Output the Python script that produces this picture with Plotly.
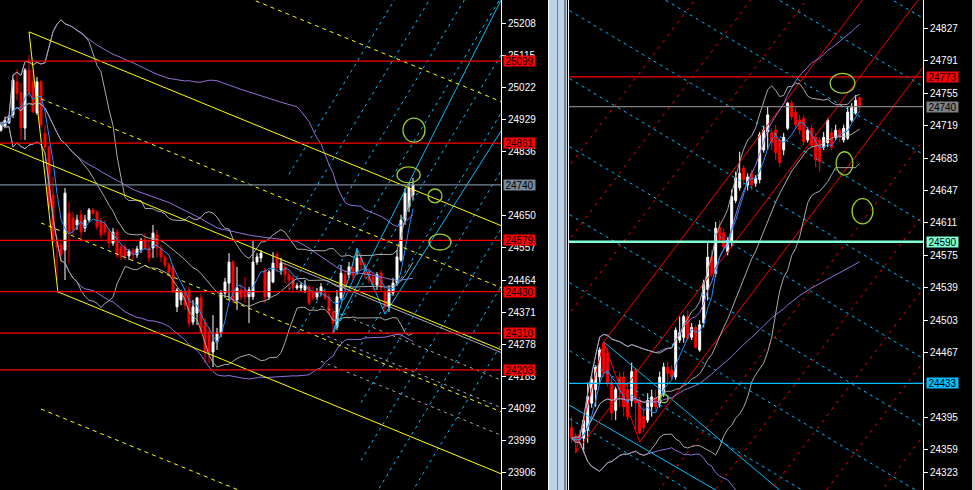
import plotly.graph_objects as go
import pandas as pd

# ---------------- data: left chart (bar index 0..103) ----------------
L_open = [24899,24911,24920,24943,25039,25007,24905,25073,25039,24949,25039,24890,24850,24711,24574,24566,24551,24658,24644,24624,
          24653,24615,24638,24667,24661,24632,24626,24603,24571,24603,24560,24560,24534,24551,24537,24551,24580,24557,24557,24595,
          24557,24531,24508,24499,24386,24406,24429,24435,24342,24368,24412,24342,24313,24255,24284,24310,24426,24455,24516,24406,
          24435,24435,24415,24415,24516,24528,24493,24415,24458,24537,24493,24502,24479,24470,24441,24441,24435,24444,24429,24415,
          24429,24426,24415,24371,24328,24412,24479,24479,24499,24487,24528,24508,24487,24473,24449,24484,24429,24386,24426,24455,
          24522,24638,24676,24711]
L_high = [24923,24938,24943,25050,25076,25036,25079,25117,25073,25053,25044,24914,24856,24763,24589,24580,24731,24690,24661,24653,
          24667,24653,24673,24673,24667,24644,24638,24615,24615,24612,24566,24568,24554,24557,24563,24586,24600,24580,24624,24609,
          24566,24537,24516,24508,24441,24435,24441,24444,24406,24415,24426,24354,24328,24362,24325,24435,24470,24542,24522,24502,
          24449,24473,24444,24580,24542,24551,24500,24493,24545,24545,24528,24513,24493,24479,24455,24458,24464,24449,24444,24441,
          24455,24435,24426,24383,24435,24508,24493,24516,24516,24551,24542,24516,24499,24484,24487,24493,24441,24449,24470,24551,
          24653,24731,24745,24760]
L_low = [24894,24904,24917,24934,24986,24870,24870,24995,24949,24943,24905,24841,24667,24571,24464,24516,24464,24513,24595,24609,
         24586,24603,24632,24653,24609,24586,24592,24557,24563,24528,24522,24522,24522,24522,24528,24542,24551,24516,24528,24531,
         24516,24499,24476,24426,24371,24391,24377,24328,24333,24333,24310,24223,24223,24211,24261,24298,24412,24406,24397,24377,
         24406,24397,24339,24406,24508,24516,24397,24406,24455,24487,24479,24455,24435,24426,24435,24429,24426,24391,24406,24406,
         24420,24406,24362,24310,24319,24406,24435,24470,24464,24479,24493,24470,24455,24435,24435,24429,24371,24371,24418,24447,
         24516,24624,24661,24696]
L_close = [24914,24926,24933,25044,25006,24905,25073,25007,24952,25039,24914,24850,24676,24574,24560,24537,24716,24600,24609,24638,
           24603,24638,24667,24658,24618,24595,24603,24571,24603,24537,24531,24534,24548,24537,24554,24580,24557,24528,24600,24557,
           24531,24508,24487,24429,24435,24429,24391,24339,24386,24412,24313,24255,24252,24284,24310,24426,24458,24516,24406,24441,
           24415,24415,24435,24516,24531,24542,24415,24487,24513,24499,24513,24479,24464,24441,24447,24449,24449,24397,24412,24429,
           24444,24412,24368,24339,24415,24484,24449,24502,24476,24528,24508,24479,24464,24449,24479,24441,24386,24435,24455,24531,
           24638,24716,24731,24740]

# ---------------- data: right chart (bar index 0..72) ----------------
R_open = [24384,24373,24376,24372,24381,24411,24426,24440,24478,24467,24434,24403,24440,24440,24426,24414,24448,24414,24396,24392,
          24407,24417,24411,24422,24451,24448,24440,24481,24484,24507,24484,24495,24470,24500,24537,24573,24555,24606,24600,24579,
          24589,24636,24650,24672,24653,24666,24655,24659,24692,24712,24711,24714,24703,24692,24716,24744,24734,24725,24727,24703,
          24716,24706,24703,24695,24700,24711,24706,24714,24703,24705,24725,24733,24750]
R_high = [24396,24378,24381,24396,24434,24442,24453,24473,24479,24473,24440,24429,24446,24446,24434,24456,24450,24418,24407,24422,
          24426,24426,24446,24456,24457,24453,24495,24507,24509,24514,24500,24498,24503,24548,24589,24581,24612,24614,24605,24595,
          24648,24668,24690,24675,24666,24670,24664,24712,24719,24740,24716,24720,24706,24711,24745,24747,24739,24731,24731,24717,
          24720,24711,24706,24712,24727,24716,24720,24716,24720,24740,24744,24753,24751]
R_low = [24367,24356,24364,24356,24367,24406,24407,24433,24440,24429,24392,24392,24407,24396,24392,24407,24381,24376,24379,24389,
         24396,24403,24406,24418,24433,24437,24437,24478,24478,24481,24481,24472,24468,24495,24525,24551,24551,24589,24581,24575,
         24584,24633,24647,24653,24647,24647,24651,24655,24689,24692,24692,24681,24673,24686,24714,24725,24716,24709,24697,24700,
         24694,24673,24668,24692,24695,24692,24703,24701,24700,24703,24723,24731,24736]
R_close = [24372,24369,24370,24392,24418,24437,24451,24470,24444,24433,24400,24426,24426,24407,24396,24446,24411,24378,24384,24414,
           24418,24407,24440,24451,24444,24440,24492,24489,24507,24483,24495,24473,24498,24544,24573,24555,24605,24592,24584,24592,
           24640,24661,24666,24659,24662,24653,24661,24709,24714,24731,24700,24689,24678,24706,24744,24729,24720,24714,24701,24714,
           24697,24681,24679,24706,24725,24695,24714,24706,24716,24734,24739,24747,24740]

# ---------------- price levels & axis ticks ----------------
L_red_levels = [25099, 24861, 24579, 24430, 24310, 24203]
L_bid = 24740
L_tick_vals = [25208, 25115, 25022, 24929, 24836, 24650, 24557, 24464, 24371, 24278, 24185, 24092, 23999, 23906]
L_tick_text = [str(v) for v in L_tick_vals]

R_red_level = 24773
R_bid = 24740
R_aqua_level = 24590
R_blue_level = 24433
R_tick_vals = [24827, 24791, 24755, 24719, 24683, 24647, 24611, 24575, 24539, 24503, 24467, 24395, 24359, 24334]
R_tick_text = ["24827", "24791", "24755", "24719", "24683", "24647", "24611", "24575", "24539", "24503", "24467",
               "24395", "24359", "24323"]

# ---------------- drawn objects (bar index, price) ----------------
L_channel_anchor = (7, 25184)      # top of the yellow equidistant channel
L_channel_end = (124.75, 24623)
L_channel_step = 180               # price distance between channel lines
L_low_anchor = (14.25, 24426)
L_gray_anchor = (84, 24449)        # grey channel, same slope as the yellow one
L_gray_step = 80
L_zigzag_bar = [83, 89, 96]        # blue swing lines
L_zigzag_px = [24310, 24556, 24365]
L_ray_from_low = (125, 25276)
L_ray_from_p3 = (107.25, 24571)
L_blue_grid_anchor = (83, 24310)   # rising blue dashed family
L_blue_grid_slope = 19.2           # price per bar
L_blue_grid_step = 8.75            # bars between neighbouring lines
R_fork_A = (1, 24356)
R_fork_B = (8, 24479)
R_fork_C = (17, 24368)
R_blue_rays = [((8, 24479), (35, 24378)), ((-0.7, 24409), (30, 24330))]
R_blue_grid_anchor = (82.05, 24778)   # descending blue dashed family
R_blue_grid_slope = -2.66             # price per bar
R_blue_grid_step = 75.5               # price between neighbouring lines
L_circles = [(103.25, 24899, 2.75, 35), (101.9, 24769, 2.9, 23), (108.5, 24708, 1.75, 20), (109.75, 24574, 2.75, 23)]
R_circles = [(67.7, 24766, 3.1, 11), (68.2, 24677, 2.1, 13), (72.7, 24624, 2.6, 14), (23.1, 24416, 1.0, 4.5)]

L_xr = [-0.25, 125.0]
L_yr = [23854.6, 25276.5]
R_xr = [-0.675, 87.825]
R_yr = [24314.6, 24858.4]

W, H = 975, 490
fig = go.Figure()

def bands(close, n, k):
    s = pd.Series(close, dtype=float)
    m = s.rolling(n, min_periods=1).mean()
    sd = s.rolling(n, min_periods=1).std(ddof=0).fillna(0)
    return m, m + k * sd, m - k * sd

def add_line(xs, ys, color, width=1, dash="solid", ax="x", ay="y"):
    fig.add_trace(go.Scatter(x=xs, y=ys, mode="lines", line=dict(color=color, width=width, dash=dash),
                             xaxis=ax, yaxis=ay, hoverinfo="skip", showlegend=False))

# ---- right: descending blue dashed family ----
gj, gp = R_blue_grid_anchor
for k in range(-4, 9):
    xs = [-5, 95]
    add_line(xs, [gp + R_blue_grid_slope * (x - gj) - k * R_blue_grid_step for x in xs], "#00BFFF", 1, "3px,4px", "x2", "y2")
for (p0, p1) in R_blue_rays:
    s = (p1[1] - p0[1]) / (p1[0] - p0[0])
    add_line([p0[0], 95], [p0[1], p0[1] + s * (95 - p0[0])], "#00BFFF", 1, "solid", "x2", "y2")

# ---- right: red pitchfork ----
(jA, pA), (jB, pB), (jC, pC) = R_fork_A, R_fork_B, R_fork_C
mj, mp = (jB + jC) / 2, (pB + pC) / 2
rs = (mp - pA) / (mj - jA)
width = ((pB - (pA + rs * (jB - jA))) + (pA + rs * (jC - jA) - pC)) / 2
for k in range(-6, 5):
    xs = [-5, 95]
    dash = "3px,5px"
    if k == 0:
        xs, dash = [jA, 95], "solid"
    elif k == 1:
        xs, dash = [jB, 95], "solid"
    elif k == -1:
        xs, dash = [jC, 95], "solid"
    add_line(xs, [pA + rs * (x - jA) + k * width for x in xs], "#FF0000", 1, dash, "x2", "y2")
add_line([jA, jB, jC], [pA, pB, pC], "#FF0000", 1, "solid", "x2", "y2")

# ---- left: rising blue dashed family ----
bj, bp = L_blue_grid_anchor
for k in range(-4, 6):
    x0 = max(72, min(bj + k * L_blue_grid_step, 90))
    xs = [x0, 130]
    add_line(xs, [bp + L_blue_grid_slope * (x - bj - k * L_blue_grid_step) for x in xs], "#00BFFF", 1, "3px,4px")

# ---- left: grey channel ----
(gx0, gy0), (ax0, ay0), (ax1, ay1) = L_gray_anchor, L_channel_anchor, L_channel_end
slope = (ay1 - ay0) / (ax1 - ax0)
add_line([70, 130], [gy0 + slope * (x - gx0) for x in (70, 130)], "#A9A9A9", 1)
for k in (1, 2, 3):
    add_line([80, 130], [gy0 + slope * (x - gx0) - k * L_gray_step for x in (80, 130)], "#A9A9A9", 1, "3px,4px")

for (o, h, l, c, ax, ay) in [(L_open, L_high, L_low, L_close, "x", "y"), (R_open, R_high, R_low, R_close, "x2", "y2")]:
    idx = list(range(len(c)))
    m20, u20, d20 = bands(c, 20, 2)
    m75, u75, d75 = bands(c, 75, 2)
    ma5 = pd.Series(c, dtype=float).rolling(5, min_periods=1).mean()
    for s in (u75, m75, d75):
        add_line(idx, s, "#9370DB", 1, ax=ax, ay=ay)
    for s in (u20, m20, d20):
        add_line(idx, s, "#A9A9A9", 1, ax=ax, ay=ay)
    fig.add_trace(go.Candlestick(x=idx, open=o, high=h, low=l, close=c, xaxis=ax, yaxis=ay,
                                 increasing=dict(line=dict(color="white", width=1), fillcolor="white"),
                                 decreasing=dict(line=dict(color="#FF0000", width=1), fillcolor="#FF0000"),
                                 whiskerwidth=0, hoverinfo="skip", showlegend=False))
    add_line(idx, ma5, "#1E90FF", 1, ax=ax, ay=ay)

# ---- left: blue swing lines ----
add_line(L_zigzag_bar, L_zigzag_px, "#00BFFF", 1)
add_line([L_zigzag_bar[0], L_ray_from_low[0]], [L_zigzag_px[0], L_ray_from_low[1]], "#00BFFF", 1)
s3 = (L_ray_from_p3[1] - L_zigzag_px[2]) / (L_ray_from_p3[0] - L_zigzag_bar[2])
add_line([L_zigzag_bar[2], 130], [L_zigzag_px[2], L_zigzag_px[2] + s3 * (130 - L_zigzag_bar[2])], "#00BFFF", 1)

# ---- left: yellow equidistant channel ----
def chan(k, x_start):
    xs = [x_start, 130]
    return xs, [ay0 + slope * (x - ax0) - k * L_channel_step for x in xs]
for k, xs0, dash in [(-2, 60, "4px,4px"), (0, ax0, "solid"), (1, 10, "4px,4px"), (2, -5, "solid"),
                     (3, 10, "4px,4px"), (4, L_low_anchor[0], "solid"), (6, 10, "4px,4px")]:
    xs, ys = chan(k, xs0)
    add_line(xs, ys, "#FFFF00", 1, dash)
add_line([ax0, L_low_anchor[0]], [ay0, L_low_anchor[1]], "#FFFF00", 1)

# ---- horizontal levels ----
for lv in L_red_levels:
    add_line(L_xr, [lv, lv], "#FF0000", 1.3)
add_line(L_xr, [L_bid, L_bid], "#778899", 1.3)
add_line(R_xr, [R_red_level] * 2, "#FF0000", 1.3, ax="x2", ay="y2")
add_line(R_xr, [R_bid] * 2, "#808080", 1.3, ax="x2", ay="y2")
add_line(R_xr, [R_aqua_level] * 2, "#7FFFD4", 2.5, ax="x2", ay="y2")
add_line(R_xr, [R_blue_level] * 2, "#00BFFF", 1.3, ax="x2", ay="y2")

shapes = []
for (cx, cy, rx, ry) in L_circles:
    shapes.append(dict(type="circle", xref="x", yref="y", x0=cx - rx, x1=cx + rx, y0=cy - ry, y1=cy + ry,
                       line=dict(color="#9ACD32", width=1.3)))
for (cx, cy, rx, ry) in R_circles:
    shapes.append(dict(type="circle", xref="x2", yref="y2", x0=cx - rx, x1=cx + rx, y0=cy - ry, y1=cy + ry,
                       line=dict(color="#9ACD32", width=1.3)))

def px(v):
    return v / W
# window divider and frame
shapes += [
    dict(type="rect", xref="paper", yref="paper", x0=px(548), x1=px(567), y0=0, y1=1, fillcolor="#BCD3EA", line_width=0, layer="above"),
    dict(type="line", xref="paper", yref="paper", x0=px(548.5), x1=px(548.5), y0=0, y1=1, line=dict(color="white", width=1)),
    dict(type="line", xref="paper", yref="paper", x0=px(557.5), x1=px(557.5), y0=0, y1=1, line=dict(color="#1E90FF", width=1)),
    dict(type="line", xref="paper", yref="paper", x0=px(565), x1=px(565), y0=0, y1=1, line=dict(color="#808080", width=2)),
    dict(type="line", xref="paper", yref="paper", x0=px(568.5), x1=px(568.5), y0=0, y1=1, line=dict(color="white", width=1)),
    dict(type="rect", xref="paper", yref="paper", x0=px(972), x1=1, y0=0, y1=1, fillcolor="#D4D0C8", line_width=0),
]

annotations = []
def tag(text, y, yref, xpix, bg):
    annotations.append(dict(text=text, x=px(xpix), xref="paper", xanchor="left", y=y, yref=yref, yanchor="middle",
                            showarrow=False, bgcolor=bg, borderpad=1, width=29, height=8,
                            font=dict(family="Liberation Sans, Arial", size=10, color="black")))
for lv in L_red_levels:
    tag(str(lv), lv, "y", 503, "#FF0000")
tag(str(L_bid), L_bid, "y", 503, "#778899")
tag(str(R_red_level), R_red_level, "y2", 926, "#FF0000")
tag(str(R_bid), R_bid, "y2", 926, "#808080")
tag(str(R_aqua_level), R_aqua_level, "y2", 926, "#7FFFD4")
tag(str(R_blue_level), R_blue_level, "y2", 926, "#00BFFF")

yax = dict(side="right", showline=True, linecolor="white", linewidth=1, ticks="outside", ticklen=4, tickcolor="white",
           tickfont=dict(family="Liberation Sans, Arial", size=10, color="white"), showgrid=False, zeroline=False,
           fixedrange=True)
xax = dict(showgrid=False, zeroline=False, showticklabels=False, ticks="", showline=False, rangeslider=dict(visible=False),
           fixedrange=True)

fig.update_layout(
    width=W, height=H, margin=dict(l=0, r=0, t=0, b=0), paper_bgcolor="black", plot_bgcolor="black",
    showlegend=False, shapes=shapes, annotations=annotations, hovermode=False,
    xaxis=dict(xax, domain=[0, px(501)], range=L_xr),
    yaxis=dict(yax, anchor="x", domain=[0, 1], range=L_yr, tickvals=L_tick_vals, ticktext=L_tick_text),
    xaxis2=dict(xax, domain=[px(569), px(923)], range=R_xr, anchor="y2"),
    yaxis2=dict(yax, anchor="x2", domain=[0, 1], range=R_yr, tickvals=R_tick_vals, ticktext=R_tick_text),
)
fig.write_html("out.html", config={"displayModeBar": False},
               post_script="document.body.style.margin='0';document.body.style.overflow='hidden';")
